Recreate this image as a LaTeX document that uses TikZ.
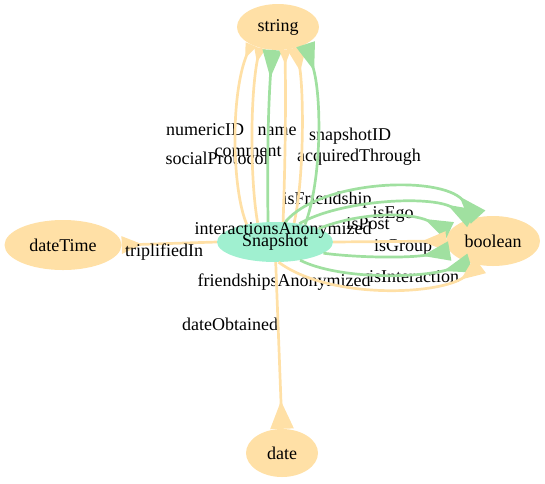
\documentclass[tikz,border=0pt]{standalone}
\usepackage{fontspec}
\setmainfont{Liberation Serif}
\usetikzlibrary{shapes.geometric,arrows.meta}
\definecolor{ora}{HTML}{FFE0A6}
\definecolor{tealc}{HTML}{A0F0D0}
\definecolor{grn}{HTML}{A0E0A0}
\begin{document}
\begin{tikzpicture}[x=1pt,y=-1pt,font=\fontsize{18}{20}\selectfont,
  tnode/.style={ellipse, fill=ora, draw=none, inner sep=0pt},
  snode/.style={ellipse, fill=tealc, draw=none, inner sep=0pt},
  lbl/.style={inner sep=0pt},
  oedge/.style={draw=ora, line width=2.7pt, -{Triangle[reversed,length=24pt,width=19pt]}},
  osmall/.style={draw=ora, line width=2.7pt, -{Triangle[reversed,length=15pt,width=11pt]}},
  gedge/.style={draw=grn, line width=2.7pt, -{Triangle[reversed,length=28pt,width=19pt]}}]
\useasboundingbox (0,0) rectangle (545,483);
% nodes
\node[tnode, minimum width=82pt, minimum height=46pt] (str) at (278,27) {string};
\node[snode, minimum width=116pt, minimum height=40pt] (snap) at (275,242) {Snapshot};
\node[tnode, minimum width=94pt, minimum height=50pt] (bool) at (493,241) {boolean};
\node[tnode, minimum width=117pt, minimum height=50pt] (dt) at (63,245) {dateTime};
\node[tnode, minimum width=72pt, minimum height=48pt] (date) at (282,453) {date};
% edge drawn below its label
\draw[oedge, -{Triangle[reversed,length=21pt,width=17pt]}] (snap.180) -- (dt.0);
% labels
\node[lbl] (l1) at (205,130) {numericID};
\node[lbl] (l2) at (277,131) {name};
\node[lbl] (l3) at (350,136) {snapshotID};
\node[lbl] (l4) at (217,158) {socialProtocol};
\node[lbl] (l5) at (248,152) {comment};
\node[lbl] (l6) at (359,157) {acquiredThrough};
\node[lbl] (l7) at (327,200) {isFriendship};
\node[lbl] (l8) at (283,230) {interactionsAnonymized};
\node[lbl] (l9) at (393,214) {isEgo};
\node[lbl] (l10) at (368,224) {isPost};
\node[lbl] (l11) at (403,247) {isGroup};
\node[lbl] (l12) at (414,277) {isInteraction};
\node[lbl] (l13) at (284,282) {friendshipsAnonymized};
\node[lbl] (l14) at (164,252) {triplifiedIn};
\node[lbl] (l15) at (230,324) {dateObtained};
% edges to string
\draw[osmall] (snap.148) .. controls (232,190) and (230,95) .. (str.213);
\draw[osmall] (snap.132) .. controls (250,180) and (250,95) .. (str.229);
\draw[gedge] (snap.109) .. controls (267,170) and (268,110) .. (str.256);
\draw[osmall] (snap.68) .. controls (285,170) and (286,110) .. (str.287);
\draw[oedge] (snap.45) .. controls (304,180) and (304,95) .. (str.312);
\draw[gedge] (snap.30) .. controls (322,180) and (322,95) .. (str.328);
% edges to boolean
\draw[gedge] (snap.63) .. controls (320,180) and (440,175) .. (bool.122);
\draw[gedge] (snap.37) .. controls (340,200) and (430,195) .. (bool.133);
\draw[gedge] (snap.17) .. controls (360,212) and (410,212) .. (bool.167);
\draw[oedge] (snap.0) -- (bool.180);
\draw[gedge] (snap.347) .. controls (360,258) and (410,258) .. (bool.193);
\draw[gedge] (snap.324) .. controls (340,280) and (420,278) .. (bool.224);
\draw[oedge] (snap.280) .. controls (330,300) and (440,295) .. (bool.242);
% other edges
\draw[oedge, -{Triangle[reversed,length=28pt,width=23pt]}] (snap.272) -- (date.90);
\end{tikzpicture}
\end{document}
